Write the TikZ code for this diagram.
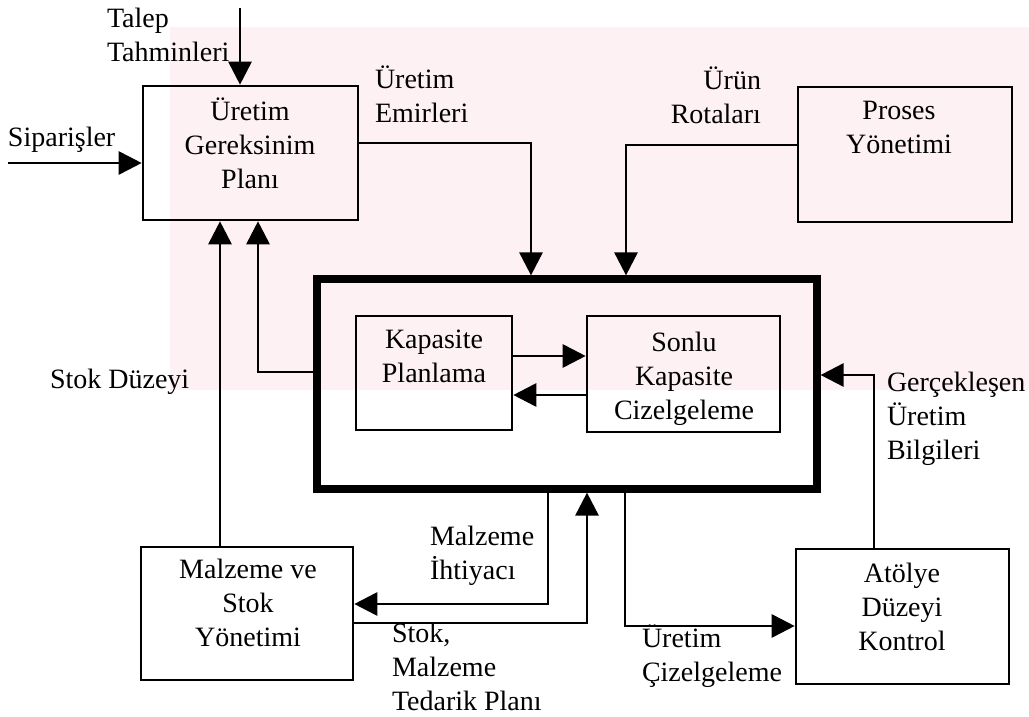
\documentclass[tikz,border=0pt]{standalone}
\usepackage{fontspec}
\setmainfont{Liberation Serif}
\usetikzlibrary{arrows.meta,fit}
\newcommand\dfont{\fontsize{14}{17}\selectfont}
\definecolor{wmpink}{RGB}{253,241,243}
\begin{document}
\begin{tikzpicture}[x=0.5pt,y=-0.5pt,
  box/.style={draw, line width=1.3pt, inner sep=0pt},
  bigbox/.style={draw, line width=3.6pt, inner sep=0pt},
  tx/.style={inner sep=0pt, outer sep=0pt, align=center, anchor=north, font=\dfont, execute at begin node=\strut},
  lb/.style={inner sep=0pt, outer sep=0pt, align=left, anchor=north west, font=\dfont, execute at begin node=\strut},
  arr/.style={line width=1.4pt, -{Triangle[length=11.5pt,width=11.5pt]}},
]
\useasboundingbox (0,0) rectangle (1029,717);
% faint watermark band
\fill[wmpink] (170,27) rectangle (1029,390);

% boxes
\node[box, fit={(143,86) (358,220)}] (ugp) {};
\node[box, fit={(798,87) (1012,222)}] (proses) {};
\node[bigbox, fit={(317,279) (817,489)}] (cap) {};
\node[box, fit={(356,316) (512,430)}] (kap) {};
\node[box, fit={(587,316) (780,432)}] (son) {};
\node[box, fit={(141,547) (353,680)}] (mst) {};
\node[box, fit={(796,549) (1009,684)}] (atl) {};

% box texts
\node[tx] (ugptx) at (250,98) {Üretim\\Gereksinim\\Planı};
\node[tx] (protx) at (899,101) {Proses\\Yönetimi};
\node[tx] (kaptx) at (434,329.5) {Kapasite\\Planlama};
\node[tx] (sontx) at (684,332) {Sonlu\\Kapasite\\Cizelgeleme};
\node[tx] (msttx) at (248,559) {Malzeme ve\\Stok\\Yönetimi};
\node[tx] (atltx) at (902,563) {Atölye\\Düzeyi\\Kontrol};

% labels
\node[lb] (ltalep) at (107,8) {Talep\\Tahminleri};
\node[lb] (lsip) at (8,123) {Siparişler};
\node[lb] (lue) at (375,65.5) {Üretim\\Emirleri};
\node[lb, align=right, anchor=north east] (lur) at (761,67) {Ürün\\Rotaları};
\node[lb] (lsd) at (50,364.5) {Stok Düzeyi};
\node[lb] (lgr) at (887,372) {Gerçekleşen\\Üretim\\Bilgileri};
\node[lb] (lmi) at (430,526) {Malzeme\\İhtiyacı};
\node[lb] (lst) at (392,623) {Stok,\\Malzeme\\Tedarik Planı};
\node[lb] (luc) at (642,625) {Üretim\\Çizelgeleme};

% connector coordinates
\coordinate (tA) at (240,8);
\coordinate (sA) at (8,163);
\coordinate (ue) at (531,143);
\coordinate (ur) at (626,145);
\coordinate (sd) at (220,400);
\coordinate (fb) at (258,372);
\coordinate (ks) at (550,356);
\coordinate (sk) at (550,395);
\coordinate (gr) at (874,375);
\coordinate (mi) at (548,604);
\coordinate (st) at (587,623);
\coordinate (uc) at (625,626);

% connectors
\draw[arr] (tA) -- (tA |- ugp.north);
\draw[arr] (sA) -- (sA -| ugp.west);
\draw[arr] (ugp.east |- ue) -| (ue |- cap.north);
\draw[arr] (proses.west |- ur) -| (ur |- cap.north);
\draw[arr] (mst.north -| sd) -- (sd |- ugp.south);
\draw[arr] (cap.west |- fb) -| (fb |- ugp.south);
\draw[arr] (kap.east |- ks) -- (son.west |- ks);
\draw[arr] (son.west |- sk) -- (kap.east |- sk);
\draw[arr] (atl.north -| gr) |- (cap.east |- gr);
\draw[arr] (cap.south -| mi) |- (mst.east |- mi);
\draw[arr] (mst.east |- st) -| (st |- cap.south);
\draw[arr] (cap.south -| uc) |- (atl.west |- uc);
\end{tikzpicture}
\end{document}
